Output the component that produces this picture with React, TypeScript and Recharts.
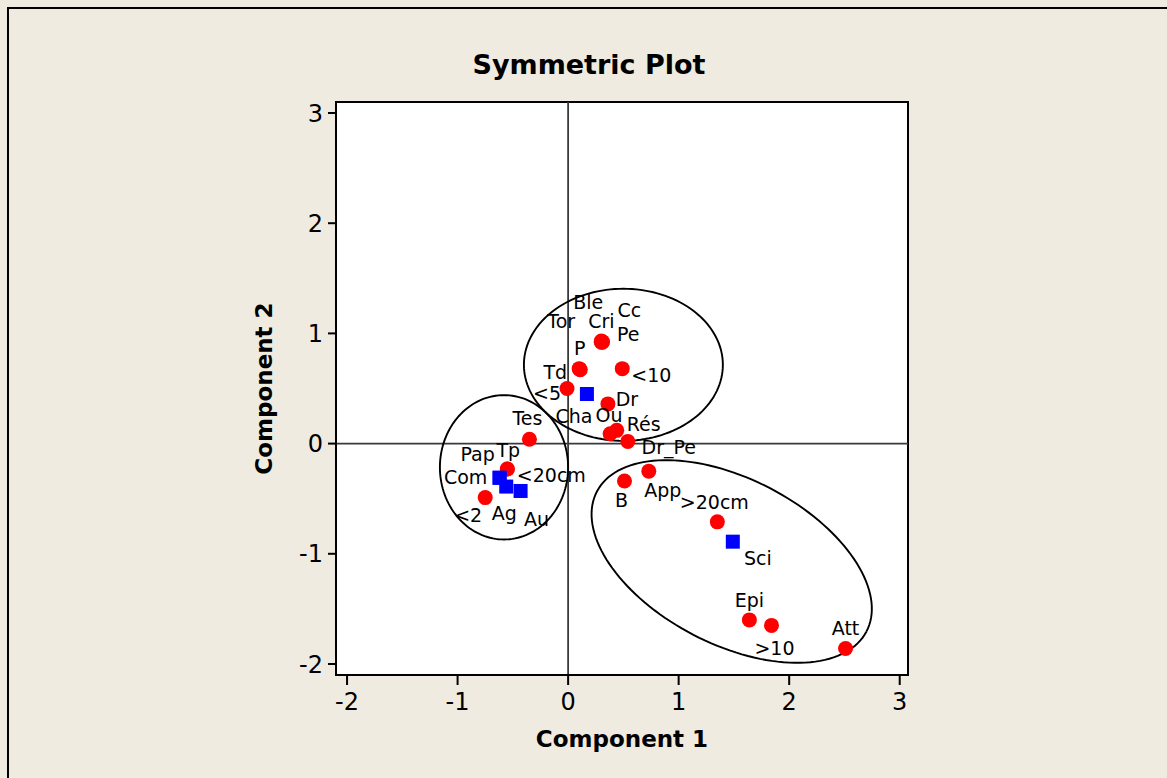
import React from "react";
import {
  Label,
  ReferenceArea,
  ReferenceLine,
  Scatter,
  ScatterChart,
  XAxis,
  YAxis,
} from "recharts";

// row points (red circles)
const ROW_NAMES = ["Ble", "Cri", "Cc", "Pe", "Tor", "P", "Td", "<10", "<5", "Dr", "Ou", "Rés", "Dr_Pe", "Tes", "Tp", "<20cm", "<2", "B", "App", ">20cm", "Epi", ">10", "Att"];
const ROW_X = [0.3, 0.31, 0.31, 0.3, 0.1, 0.105, 0.11, 0.49, -0.01, 0.36, 0.38, 0.44, 0.54, -0.35, -0.55, -0.55, -0.75, 0.51, 0.73, 1.35, 1.64, 1.84, 2.51];
const ROW_Y = [0.93, 0.92, 0.925, 0.92, 0.68, 0.675, 0.67, 0.68, 0.5, 0.36, 0.09, 0.12, 0.02, 0.04, -0.23, -0.23, -0.49, -0.34, -0.25, -0.71, -1.6, -1.65, -1.86];

// column points (blue squares)
const COL_NAMES = ["Cha", "Pap", "Com", "Ag", "Au", "Sci"];
const COL_X = [0.17, -0.62, -0.62, -0.56, -0.43, 1.49];
const COL_Y = [0.45, -0.31, -0.31, -0.39, -0.43, -0.89];

const X_TICKS = [-2, -1, 0, 1, 2, 3];
const Y_TICKS = [-2, -1, 0, 1, 2, 3];

// grouping ellipses, in data units
const ELLIPSE_CX = [0.5, -0.58, 1.48];
const ELLIPSE_CY = [0.715, -0.215, -1.07];
const ELLIPSE_RX = [0.9, 0.58, 1.375];
const ELLIPSE_RY = [0.69, 0.655, 0.75];
const ELLIPSE_TILT = [0, 0, -27.5];

// label placement around each marker (px)
const LABEL_OFFSETS: Record<string, [number, number]> = {
  Ble: [-13, -39], Cri: [-1, -21], Cc: [27, -31], Pe: [27, -8],
  Tor: [-18, -47], P: [0, -21], Td: [-25, 3], "<10": [29, 7],
  "<5": [-20, 5], Dr: [19, -5], Ou: [-1, -18], "Rés": [27, -6],
  Dr_Pe: [41, 6], Tes: [-2, -21], Tp: [1, -19], "<20cm": [44, 6],
  "<2": [-17, 18], B: [-3, 19], App: [14, 19], ">20cm": [-3, -19],
  Epi: [0, -20], ">10": [3, 23], Att: [0, -20],
  Cha: [-13, 22], Pap: [-22, -23], Com: [-34, 0], Ag: [-2, 27],
  Au: [16, 28], Sci: [25, 17],
};

const FONT = "'DejaVu Sans', Tahoma, sans-serif";

const rows = ROW_NAMES.map((name, i) => ({ name, x: ROW_X[i], y: ROW_Y[i] }));
const cols = COL_NAMES.map((name, i) => ({ name, x: COL_X[i], y: COL_Y[i] }));

function ellipsePath(i: number) {
  const pts = [];
  const phi = (ELLIPSE_TILT[i] * Math.PI) / 180;
  for (let k = 0; k <= 144; k++) {
    const t = (k / 144) * Math.PI * 2;
    const px = ELLIPSE_RX[i] * Math.cos(t);
    const py = ELLIPSE_RY[i] * Math.sin(t);
    pts.push({
      x: ELLIPSE_CX[i] + px * Math.cos(phi) - py * Math.sin(phi),
      y: ELLIPSE_CY[i] + px * Math.sin(phi) + py * Math.cos(phi),
    });
  }
  return pts;
}

const RedDot = (p: any) => <circle cx={p.cx} cy={p.cy} r={7.5} fill="#ff0000" />;
const BlueSquare = (p: any) => (
  <rect x={p.cx - 7} y={p.cy - 7} width={14} height={14} fill="#0000ff" />
);
const NoMark = () => <g />;

const PointLabel = (p: any) => {
  const name = p.payload?.name ?? "";
  const [dx, dy] = LABEL_OFFSETS[name] ?? [0, -20];
  return (
    <text
      x={p.cx + dx}
      y={p.cy + dy}
      dy="0.35em"
      textAnchor="middle"
      fontSize={19}
      fontFamily={FONT}
      fill="#000"
    >
      {name}
    </text>
  );
};

export default function App() {
  return (
    <div
      style={{
        position: "fixed",
        left: 0,
        top: 0,
        width: 1167,
        height: 778,
        overflow: "hidden",
        background: "#efebe1",
      }}
    >
      <svg width={1167} height={778} style={{ position: "absolute", left: 0, top: 0 }}>
        <rect x={8} y={8} width={1300} height={900} fill="none" stroke="#000" strokeWidth={2} />
        <text
          x={589}
          y={74}
          textAnchor="middle"
          fontSize={27}
          fontWeight="bold"
          fontFamily={FONT}
          fill="#000"
        >
          Symmetric Plot
        </text>
      </svg>
      <div style={{ position: "absolute", left: 0, top: 0 }}>
        <ScatterChart
          width={1167}
          height={778}
          margin={{ top: 102, right: 259, bottom: 28, left: 192 }}
        >
          <XAxis
            type="number"
            dataKey="x"
            domain={[-2.1, 3.075]}
            ticks={X_TICKS}
            allowDataOverflow
            height={75}
            tickSize={10}
            tickMargin={8}
            axisLine={{ stroke: "#000", strokeWidth: 2 }}
            tickLine={{ stroke: "#000", strokeWidth: 2 }}
            tick={{ fontSize: 24, fill: "#000", fontFamily: FONT }}
          >
            <Label
              value="Component 1"
              position="insideBottom"
              offset={3}
              fontSize={23}
              fontWeight="bold"
              fontFamily={FONT}
              fill="#000"
            />
          </XAxis>
          <YAxis
            type="number"
            dataKey="y"
            domain={[-2.1, 3.1]}
            ticks={Y_TICKS}
            allowDataOverflow
            width={144}
            tickSize={8}
            tickMargin={5}
            axisLine={{ stroke: "#000", strokeWidth: 2 }}
            tickLine={{ stroke: "#000", strokeWidth: 2 }}
            tick={{ fontSize: 24, fill: "#000", fontFamily: FONT }}
          >
            <Label
              value="Component 2"
              position="center"
              angle={-90}
              fontSize={23}
              fontWeight="bold"
              fontFamily={FONT}
              fill="#000"
            />
          </YAxis>
          <ReferenceArea
            x1={-2.1}
            x2={3.075}
            y1={-2.1}
            y2={3.1}
            fill="#ffffff"
            fillOpacity={1}
            stroke="#000"
            strokeWidth={2}
          />
          <ReferenceLine x={0} stroke="#3a3a3a" strokeWidth={1.8} />
          <ReferenceLine y={0} stroke="#3a3a3a" strokeWidth={1.8} />
          {ELLIPSE_CX.map((_, i) => (
            <Scatter
              key={`ell-${i}`}
              data={ellipsePath(i)}
              line={{ stroke: "#000", strokeWidth: 1.9 }}
              lineType="joint"
              shape={NoMark}
              isAnimationActive={false}
            />
          ))}
          <Scatter data={rows} shape={RedDot} isAnimationActive={false} />
          <Scatter data={cols} shape={BlueSquare} isAnimationActive={false} />
          <Scatter data={[...rows, ...cols]} shape={PointLabel} isAnimationActive={false} />
        </ScatterChart>
      </div>
    </div>
  );
}
